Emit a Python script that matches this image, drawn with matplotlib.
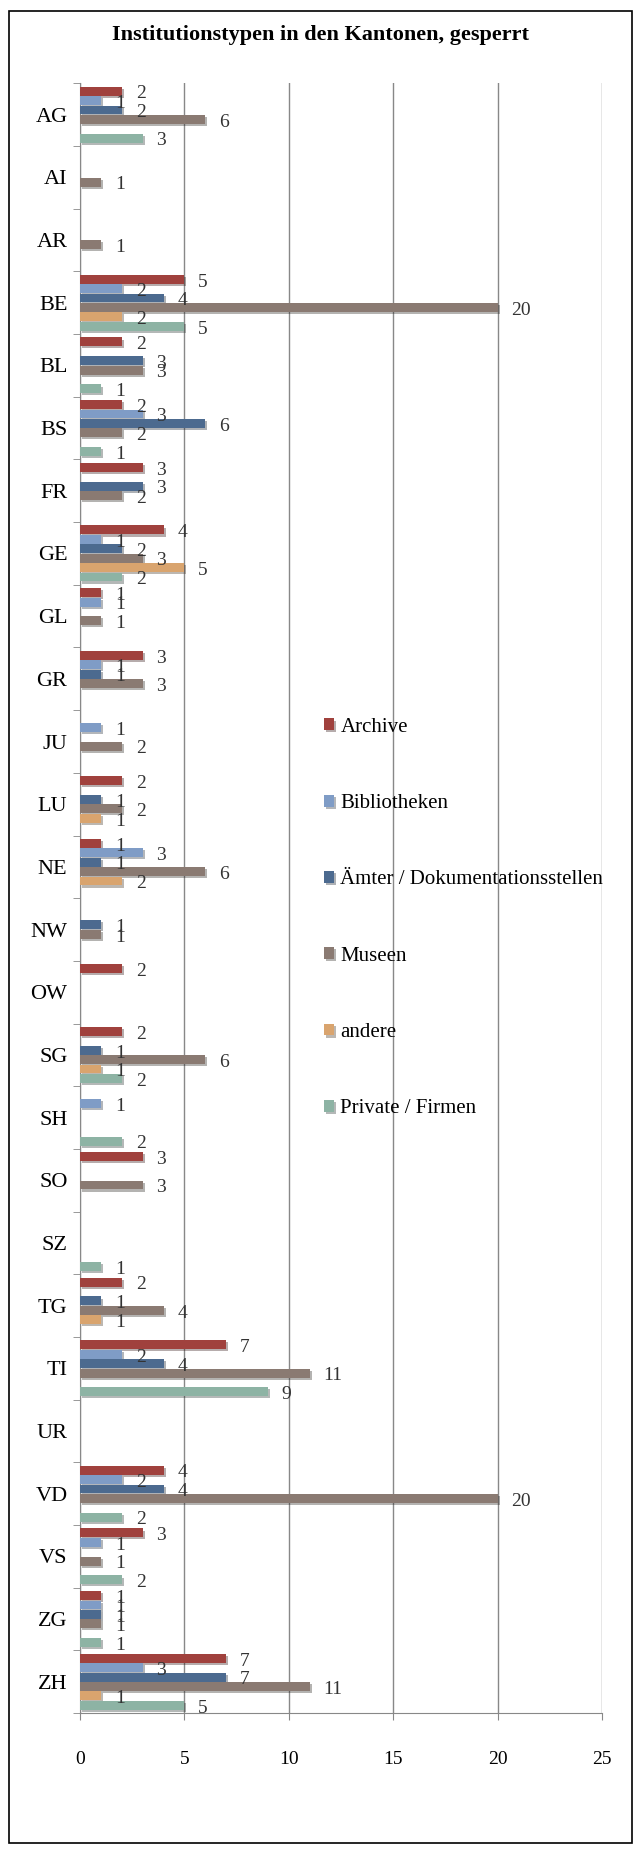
import numpy as np
import matplotlib
matplotlib.use('Agg')
import matplotlib.pyplot as plt
import matplotlib.patheffects as pe
from matplotlib.patches import Rectangle
from matplotlib.ticker import FixedLocator

plt.rcParams['font.family'] = ['Liberation Serif', 'DejaVu Serif']

kantone = ['AG', 'AI', 'AR', 'BE', 'BL', 'BS', 'FR', 'GE', 'GL', 'GR', 'JU', 'LU', 'NE',
           'NW', 'OW', 'SG', 'SH', 'SO', 'SZ', 'TG', 'TI', 'UR', 'VD', 'VS', 'ZG', 'ZH']
serien = ['Archive', 'Bibliotheken', 'Ämter / Dokumentationsstellen', 'Museen',
          'andere', 'Private / Firmen']

archive      = [2, 0, 0, 5, 2, 2, 3, 4, 1, 3, 0, 2, 1, 0, 2, 2, 0, 3, 0, 2, 7, 0, 4, 3, 1, 7]
bibliotheken = [1, 0, 0, 2, 0, 3, 0, 1, 1, 1, 1, 0, 3, 0, 0, 0, 1, 0, 0, 0, 2, 0, 2, 1, 1, 3]
aemter       = [2, 0, 0, 4, 3, 6, 3, 2, 0, 1, 0, 1, 1, 1, 0, 1, 0, 0, 0, 1, 4, 0, 4, 0, 1, 7]
museen       = [6, 1, 1, 20, 3, 2, 2, 3, 1, 3, 2, 2, 6, 1, 0, 6, 0, 3, 0, 4, 11, 0, 20, 1, 1, 11]
andere       = [0, 0, 0, 2, 0, 0, 0, 5, 0, 0, 0, 1, 2, 0, 0, 1, 0, 0, 0, 1, 0, 0, 0, 0, 0, 1]
private      = [3, 0, 0, 5, 1, 1, 0, 2, 0, 0, 0, 0, 0, 0, 0, 2, 2, 0, 1, 0, 9, 0, 2, 2, 1, 5]

werte = [archive, bibliotheken, aemter, museen, andere, private]
farben = ['#a0413d', '#7f9cc6', '#4c6a8f', '#8a7a72', '#d9a46e', '#8db3a4']

fig = plt.figure(figsize=(6.42, 18.52), dpi=100)
ax = fig.add_axes([0.1246, 0.075, 0.813, 0.880])

y = np.arange(len(kantone))
h = 0.15
schatten = [pe.SimplePatchShadow(offset=(1.5, -1.5), alpha=0.35), pe.Normal()]

for j, (name, vals, c) in enumerate(zip(serien, werte, farben)):
    pos = y + (j - 2.5) * h
    bars = ax.barh(pos, vals, height=h * 0.95, color=c, label=name, zorder=3)
    for b, v, p in zip(bars, vals, pos):
        b.set_path_effects(schatten)
        if v > 0:
            ax.annotate(str(v), (v, p), xytext=(10, -2), textcoords='offset points',
                        ha='left', va='center', fontsize=14, color='#333333', zorder=4)

ax.set_xlim(0, 25)
ax.set_ylim(len(kantone) - 0.5, -0.5)
ax.set_xticks(range(0, 26, 5))
ax.set_yticks(y)
ax.set_yticklabels(kantone, fontsize=16)
ax.yaxis.set_minor_locator(FixedLocator(np.arange(-0.5, len(kantone), 1)))
ax.tick_params(axis='y', which='major', length=0, pad=9)
ax.tick_params(axis='y', which='minor', length=5, color='#888888', direction='out')
ax.tick_params(axis='x', length=5, color='#888888', labelsize=14, pad=22)
ax.xaxis.grid(True, color='#888888', linewidth=1, zorder=0)
for s in ['top', 'right']:
    ax.spines[s].set_visible(False)
for s in ['left', 'bottom']:
    ax.spines[s].set_color('#888888')

fig.text(0.5, 1 - 35 / 1852, 'Institutionstypen in den Kantonen, gesperrt',
         ha='center', va='center', fontsize=16, fontweight='bold')

leg = ax.legend(loc='upper left', bbox_to_anchor=(0.475, 1 - 699 / 1852),
                bbox_transform=fig.transFigure, frameon=False, fontsize=15,
                labelspacing=2.75, handlelength=0.5, handleheight=0.5, handletextpad=0.3)

fig.patches.append(Rectangle((9 / 642, 9 / 1852), 623 / 642, 1832 / 1852,
                             transform=fig.transFigure, fill=False, edgecolor='black',
                             linewidth=1.2))

fig.savefig('out.png', dpi=100)
